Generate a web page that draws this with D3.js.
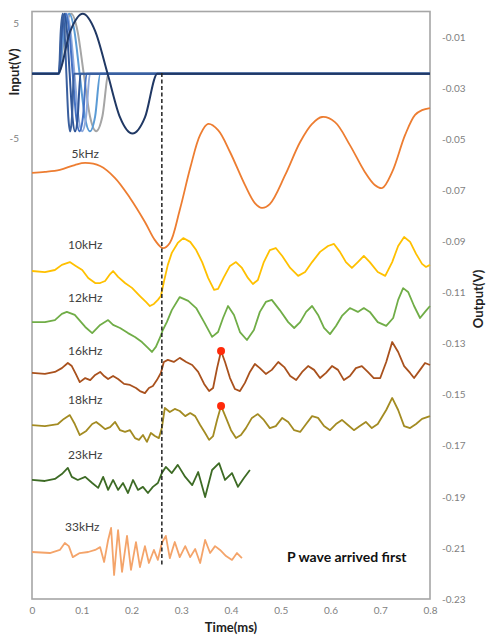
<!DOCTYPE html>
<html><head><meta charset="utf-8">
<script src="https://cdn.jsdelivr.net/npm/d3@7"></script>
<style>html,body{margin:0;padding:0;background:#fff}svg{display:block}</style>
</head><body><svg id="c" width="487" height="637"></svg>
<script>
// ---------- DATA ----------
const xTicks = [0, 0.1, 0.2, 0.3, 0.4, 0.5, 0.6, 0.7, 0.8];
const rightTicks = [-0.01, -0.03, -0.05, -0.07, -0.09, -0.11, -0.13, -0.15, -0.17, -0.19, -0.21, -0.23];
const leftTicks = [5, -5];
const freqLabels = ["5kHz", "10kHz", "12kHz", "16kHz", "18kHz", "23kHz", "33kHz"];

// input (left axis, V) sine bursts: one cycle per frequency
const inputBaseline = 0.6;
const inputShape = [0.6, 4.3, 5.8, 4.3, 0.6, -3.1, -4.4, -3.1, 0.6];
const inputShape5 = [0.6, 4.3, 5.8, 4.3, 0.6, -3.2, -4.6, -3.2, 0.6];
const inT5  = [0.052, 0.077, 0.102, 0.127, 0.152, 0.177, 0.202, 0.227, 0.252];
const inT10 = [0.054, 0.0665, 0.079, 0.0915, 0.104, 0.1165, 0.129, 0.1415, 0.154];
const inT12 = [0.054, 0.0644, 0.0748, 0.0853, 0.0957, 0.1061, 0.1165, 0.1269, 0.1373];
const inT16 = [0.054, 0.0618, 0.0696, 0.0774, 0.0853, 0.0931, 0.1009, 0.1087, 0.1165];
const inT18 = [0.054, 0.0609, 0.0679, 0.0748, 0.0818, 0.0887, 0.0957, 0.1026, 0.1096];
const inT23 = [0.054, 0.0594, 0.0649, 0.0703, 0.0757, 0.0812, 0.0866, 0.0920, 0.0975];
const inT33 = [0.054, 0.0578, 0.0616, 0.0654, 0.0691, 0.0729, 0.0767, 0.0805, 0.0843];

// output (right axis, V): [time ms, value]
const out5 = [[0,-0.0632],[0.026,-0.0628],[0.056,-0.0620],[0.086,-0.0601],[0.107,-0.0593],[0.137,-0.0605],[0.167,-0.0652],[0.197,-0.0730],[0.227,-0.0824],[0.247,-0.0895],[0.263,-0.0926],[0.277,-0.0906],[0.297,-0.0777],[0.318,-0.0613],[0.338,-0.0483],[0.354,-0.0440],[0.374,-0.0464],[0.398,-0.0550],[0.428,-0.0679],[0.448,-0.0750],[0.462,-0.0769],[0.478,-0.0754],[0.509,-0.0640],[0.539,-0.0511],[0.563,-0.0440],[0.583,-0.0413],[0.609,-0.0433],[0.639,-0.0523],[0.669,-0.0628],[0.689,-0.0679],[0.704,-0.0691],[0.724,-0.0628],[0.750,-0.0483],[0.770,-0.0405],[0.784,-0.0386],[0.800,-0.0378]];
const out10 = [[0,-0.1016],[0.026,-0.1020],[0.046,-0.1012],[0.060,-0.0992],[0.076,-0.0981],[0.088,-0.0996],[0.101,-0.1012],[0.113,-0.1043],[0.127,-0.1063],[0.137,-0.1063],[0.147,-0.1055],[0.157,-0.1028],[0.163,-0.1016],[0.173,-0.1039],[0.187,-0.1063],[0.201,-0.1082],[0.217,-0.1114],[0.229,-0.1137],[0.237,-0.1153],[0.245,-0.1145],[0.253,-0.1129],[0.259,-0.1114],[0.265,-0.1059],[0.273,-0.0992],[0.281,-0.0945],[0.293,-0.0906],[0.304,-0.0887],[0.318,-0.0902],[0.330,-0.0934],[0.342,-0.0981],[0.354,-0.1043],[0.366,-0.1090],[0.374,-0.1086],[0.386,-0.1039],[0.398,-0.0996],[0.410,-0.0981],[0.422,-0.1004],[0.434,-0.1043],[0.444,-0.1067],[0.454,-0.1051],[0.466,-0.0981],[0.478,-0.0934],[0.490,-0.0926],[0.503,-0.0957],[0.519,-0.1004],[0.535,-0.1035],[0.549,-0.1020],[0.563,-0.0981],[0.579,-0.0941],[0.595,-0.0918],[0.607,-0.0910],[0.619,-0.0941],[0.631,-0.0981],[0.643,-0.1004],[0.655,-0.0981],[0.667,-0.0957],[0.679,-0.0981],[0.695,-0.1020],[0.710,-0.1035],[0.724,-0.0981],[0.736,-0.0918],[0.748,-0.0883],[0.760,-0.0902],[0.772,-0.0949],[0.784,-0.0988],[0.792,-0.1000],[0.800,-0.0992]];
const out12 = [[0,-0.1216],[0.026,-0.1216],[0.046,-0.1208],[0.060,-0.1184],[0.070,-0.1176],[0.086,-0.1188],[0.107,-0.1235],[0.121,-0.1259],[0.137,-0.1227],[0.153,-0.1208],[0.163,-0.1227],[0.177,-0.1239],[0.193,-0.1259],[0.207,-0.1274],[0.221,-0.1294],[0.233,-0.1317],[0.241,-0.1333],[0.249,-0.1313],[0.257,-0.1278],[0.263,-0.1247],[0.271,-0.1216],[0.281,-0.1169],[0.297,-0.1118],[0.314,-0.1133],[0.330,-0.1161],[0.346,-0.1216],[0.362,-0.1274],[0.374,-0.1255],[0.384,-0.1200],[0.394,-0.1153],[0.406,-0.1188],[0.418,-0.1255],[0.432,-0.1286],[0.446,-0.1247],[0.458,-0.1176],[0.470,-0.1137],[0.482,-0.1129],[0.498,-0.1169],[0.515,-0.1216],[0.527,-0.1239],[0.539,-0.1216],[0.551,-0.1176],[0.563,-0.1153],[0.575,-0.1188],[0.587,-0.1239],[0.599,-0.1263],[0.611,-0.1231],[0.623,-0.1192],[0.639,-0.1161],[0.655,-0.1176],[0.667,-0.1161],[0.679,-0.1176],[0.695,-0.1216],[0.712,-0.1231],[0.726,-0.1200],[0.736,-0.1129],[0.746,-0.1083],[0.756,-0.1098],[0.768,-0.1153],[0.780,-0.1200],[0.790,-0.1176],[0.800,-0.1153]];
const out16 = [[0,-0.1415],[0.026,-0.1419],[0.046,-0.1411],[0.060,-0.1396],[0.072,-0.1376],[0.080,-0.1388],[0.088,-0.1419],[0.096,-0.1451],[0.107,-0.1435],[0.117,-0.1443],[0.127,-0.1423],[0.137,-0.1411],[0.145,-0.1427],[0.153,-0.1439],[0.163,-0.1427],[0.173,-0.1439],[0.185,-0.1458],[0.197,-0.1462],[0.209,-0.1474],[0.217,-0.1486],[0.227,-0.1494],[0.235,-0.1474],[0.243,-0.1466],[0.251,-0.1443],[0.259,-0.1415],[0.265,-0.1372],[0.273,-0.1364],[0.285,-0.1372],[0.297,-0.1356],[0.310,-0.1372],[0.322,-0.1384],[0.334,-0.1411],[0.346,-0.1458],[0.356,-0.1486],[0.364,-0.1474],[0.372,-0.1396],[0.380,-0.1329],[0.388,-0.1372],[0.398,-0.1435],[0.408,-0.1478],[0.418,-0.1486],[0.428,-0.1454],[0.438,-0.1411],[0.448,-0.1380],[0.458,-0.1396],[0.470,-0.1419],[0.482,-0.1403],[0.495,-0.1372],[0.507,-0.1392],[0.519,-0.1427],[0.531,-0.1443],[0.543,-0.1411],[0.555,-0.1388],[0.567,-0.1403],[0.579,-0.1435],[0.591,-0.1415],[0.603,-0.1388],[0.615,-0.1403],[0.627,-0.1443],[0.639,-0.1427],[0.651,-0.1396],[0.663,-0.1388],[0.675,-0.1411],[0.687,-0.1435],[0.700,-0.1435],[0.712,-0.1372],[0.724,-0.1294],[0.736,-0.1333],[0.748,-0.1388],[0.760,-0.1415],[0.768,-0.1435],[0.780,-0.1403],[0.790,-0.1376],[0.800,-0.1384]];
const out18 = [[0,-0.1619],[0.026,-0.1623],[0.052,-0.1615],[0.064,-0.1595],[0.076,-0.1580],[0.086,-0.1615],[0.096,-0.1658],[0.109,-0.1642],[0.121,-0.1615],[0.129,-0.1607],[0.137,-0.1619],[0.147,-0.1635],[0.157,-0.1627],[0.167,-0.1607],[0.177,-0.1639],[0.187,-0.1646],[0.197,-0.1639],[0.207,-0.1670],[0.215,-0.1677],[0.223,-0.1658],[0.231,-0.1685],[0.239,-0.1650],[0.247,-0.1662],[0.255,-0.1670],[0.261,-0.1631],[0.267,-0.1552],[0.277,-0.1568],[0.287,-0.1556],[0.297,-0.1564],[0.308,-0.1584],[0.318,-0.1572],[0.328,-0.1584],[0.338,-0.1619],[0.348,-0.1650],[0.356,-0.1677],[0.364,-0.1662],[0.372,-0.1599],[0.380,-0.1544],[0.390,-0.1591],[0.400,-0.1639],[0.410,-0.1670],[0.420,-0.1658],[0.430,-0.1631],[0.442,-0.1591],[0.454,-0.1576],[0.466,-0.1599],[0.478,-0.1631],[0.490,-0.1623],[0.503,-0.1591],[0.515,-0.1607],[0.527,-0.1639],[0.539,-0.1646],[0.551,-0.1615],[0.563,-0.1584],[0.575,-0.1591],[0.587,-0.1623],[0.599,-0.1639],[0.611,-0.1615],[0.623,-0.1599],[0.635,-0.1619],[0.647,-0.1639],[0.659,-0.1623],[0.671,-0.1607],[0.683,-0.1631],[0.695,-0.1615],[0.712,-0.1560],[0.724,-0.1513],[0.736,-0.1560],[0.748,-0.1623],[0.760,-0.1631],[0.772,-0.1615],[0.784,-0.1595],[0.800,-0.1584]];
const out23 = [[0,-0.1834],[0.026,-0.1838],[0.046,-0.1830],[0.060,-0.1811],[0.072,-0.1787],[0.080,-0.1822],[0.092,-0.1834],[0.107,-0.1822],[0.121,-0.1846],[0.133,-0.1865],[0.143,-0.1822],[0.153,-0.1873],[0.163,-0.1834],[0.173,-0.1873],[0.183,-0.1846],[0.193,-0.1885],[0.203,-0.1834],[0.213,-0.1873],[0.223,-0.1861],[0.233,-0.1885],[0.243,-0.1861],[0.253,-0.1846],[0.261,-0.1807],[0.269,-0.1783],[0.281,-0.1807],[0.293,-0.1775],[0.308,-0.1822],[0.322,-0.1854],[0.334,-0.1803],[0.348,-0.1901],[0.362,-0.1795],[0.376,-0.1768],[0.388,-0.1834],[0.402,-0.1807],[0.414,-0.1861],[0.426,-0.1826],[0.438,-0.1795]];
const out33 = [[0,-0.2116],[0.036,-0.2120],[0.056,-0.2108],[0.066,-0.2081],[0.074,-0.2093],[0.082,-0.2136],[0.096,-0.2120],[0.113,-0.2116],[0.127,-0.2108],[0.137,-0.2097],[0.145,-0.2155],[0.153,-0.2069],[0.159,-0.2022],[0.165,-0.2206],[0.173,-0.2030],[0.181,-0.2194],[0.191,-0.2053],[0.199,-0.2186],[0.209,-0.2077],[0.217,-0.2175],[0.227,-0.2093],[0.235,-0.2159],[0.245,-0.2108],[0.253,-0.2147],[0.261,-0.2081],[0.269,-0.2053],[0.277,-0.2140],[0.287,-0.2077],[0.297,-0.2136],[0.308,-0.2093],[0.318,-0.2136],[0.328,-0.2104],[0.338,-0.2159],[0.348,-0.2069],[0.358,-0.2120],[0.368,-0.2093],[0.378,-0.2108],[0.390,-0.2132],[0.402,-0.2147],[0.412,-0.2120],[0.422,-0.2140]];

// markers on the first P-wave peak (right axis)
const markerT = [0.380, 0.380];
const markerV = [-0.1329, -0.1544];
// dashed arrival line (time, right-axis span)
const arrivalT = 0.261;
const arrivalV = [-0.0241, -0.2166];

// ---------- CHART ----------
const svg = d3.select("#c");
const L = 32, R = 430, T = 11.5, B = 599;
const x = d3.scaleLinear().domain([0, 0.8]).range([L, R]);
const yR = d3.scaleLinear().domain([-0.23, 0]).range([B, T]);
const yL = d3.scaleLinear().domain([-45, 6]).range([B, T]);
const FONT = "Lato, 'Open Sans', sans-serif";

// axes
const gx = svg.append("g").attr("transform", `translate(0,${B})`)
  .call(d3.axisBottom(x).tickValues(xTicks).tickSize(0).tickPadding(8).tickFormat(d => String(+d.toFixed(1))));
const gr = svg.append("g").attr("transform", `translate(${R},0)`)
  .call(d3.axisRight(yR).tickValues(rightTicks).tickSize(0).tickPadding(12).tickFormat(d => d.toFixed(2)));
const gl = svg.append("g").attr("transform", `translate(${L},0)`)
  .call(d3.axisLeft(yL).tickValues(leftTicks).tickSize(0).tickPadding(13).tickFormat(d => String(d)));
[gx, gr, gl].forEach(g => {
  g.select(".domain").remove();
  g.selectAll("text").attr("fill", "#7f7f7f").style("font-family", FONT).style("font-size", "10px");
});

// frame
svg.append("rect").attr("x", L).attr("y", T).attr("width", R - L).attr("height", B - T)
  .attr("fill", "none").attr("stroke", "#a6a6a6").attr("stroke-width", 1.6);

// input waves
const inputTimes = [inT10, inT12, inT16, inT18, inT23, inT33, inT5];
const inputColors = ["#a5a5a5", "#5b9bd5", "#8faadc", "#4472c4", "#2f5597", "#3a5f9e", "#203864"];
const lineL = d3.line().x(d => x(d[0])).y(d => yL(d[1])).curve(d3.curveMonotoneX);
inputTimes.forEach((ts, i) => {
  const shape = ts === inT5 ? inputShape5 : inputShape;
  const pts = [[0, inputBaseline]].concat(ts.map((t, k) => [t, shape[k]])).concat([[0.8, inputBaseline]]);
  svg.append("path").attr("d", lineL(pts)).attr("fill", "none")
    .attr("stroke", inputColors[i]).attr("stroke-width", 2);
});

// output traces
const outputs = [out5, out10, out12, out16, out18, out23, out33];
const outColors = ["#ed7d31", "#ffc000", "#70ad47", "#a9511d", "#a38b22", "#3d6b25", "#f4a46a"];
const lineR = d3.line().x(d => x(d[0])).y(d => yR(d[1]));
outputs.forEach((d, i) => {
  svg.append("path").attr("d", lineR.curve(i === 0 ? d3.curveCatmullRom : d3.curveLinear)(d))
    .attr("fill", "none").attr("stroke", outColors[i]).attr("stroke-width", 1.8)
    .attr("stroke-linejoin", "round");
});

// dashed arrival line
svg.append("line").attr("x1", x(arrivalT)).attr("x2", x(arrivalT))
  .attr("y1", yR(arrivalV[0])).attr("y2", yR(arrivalV[1]))
  .attr("stroke", "#222").attr("stroke-width", 1.5).attr("stroke-dasharray", "4,2.5");

// markers
markerT.forEach((t, i) => {
  svg.append("circle").attr("cx", x(t)).attr("cy", yR(markerV[i])).attr("r", 4).attr("fill", "#ff2a0a");
});

// frequency labels (placed just above each trace start)
const labelOffsetV = [0.0058, 0.0085, 0.0078, 0.0070, 0.0082, 0.0082, 0.0082];
const labelT = [0.107, 0.107, 0.107, 0.107, 0.107, 0.107, 0.101];
freqLabels.forEach((s, i) => {
  const v0 = outputs[i][0][1];
  svg.append("text").attr("x", x(labelT[i])).attr("y", yR(v0 + labelOffsetV[i]) )
    .attr("text-anchor", "middle").attr("fill", "#404040")
    .style("font-family", FONT).style("font-size", "12px").text(s);
});

// annotation
svg.append("text").attr("x", 287).attr("y", 562).attr("fill", "#111")
  .style("font-family", FONT).style("font-size", "14px").style("font-weight", "bold")
  .text("P wave arrived first");

// axis titles
svg.append("text").attr("transform", `translate(${(L + R) / 2},632)`).attr("text-anchor", "middle")
  .attr("fill", "#222").style("font-family", FONT).style("font-size", "13px").style("font-weight", "bold").text("Time(ms)");
svg.append("text").attr("transform", "translate(19,72) rotate(-90)").attr("text-anchor", "middle")
  .attr("fill", "#222").style("font-family", FONT).style("font-size", "13px").style("font-weight", "bold").text("Input(V)");
svg.append("text").attr("transform", "translate(483,299) rotate(-90)").attr("text-anchor", "middle")
  .attr("fill", "#222").style("font-family", FONT).style("font-size", "13px").style("font-weight", "bold").text("Output(V)");
</script></body></html>
